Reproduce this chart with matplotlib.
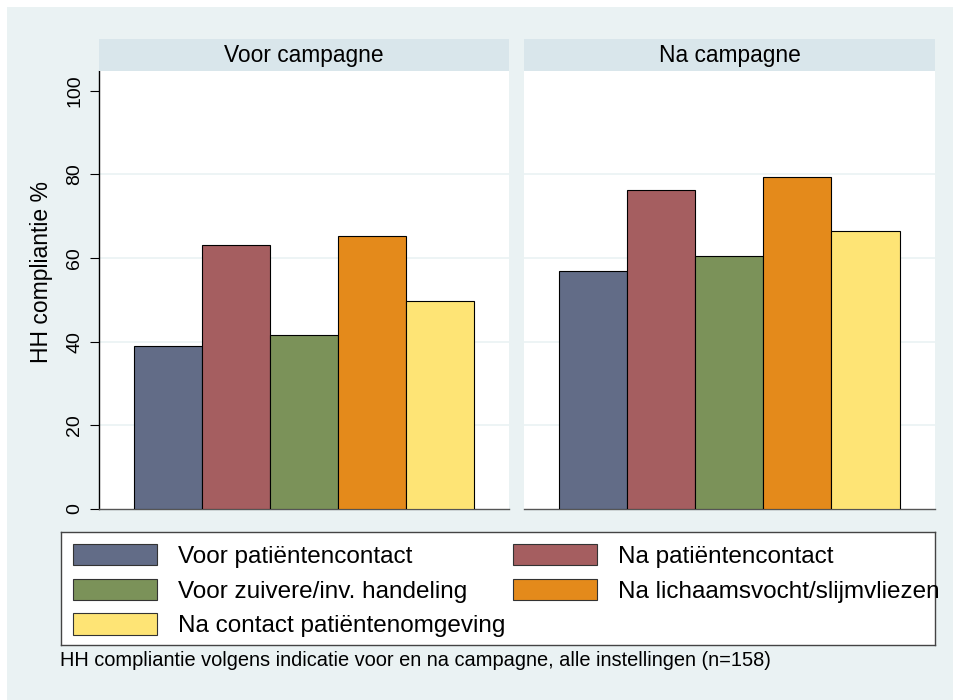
import matplotlib
matplotlib.use('Agg')
import matplotlib.pyplot as plt
from matplotlib.patches import Patch, Rectangle

plt.rcParams['font.family'] = ['Liberation Sans', 'DejaVu Sans']

# ── data ────────────────────────────────────────────────────────────────────
panels = ['Voor campagne', 'Na campagne']
indicaties = [
    'Voor patiëntencontact',
    'Na patiëntencontact',
    'Voor zuivere/inv. handeling',
    'Na lichaamsvocht/slijmvliezen',
    'Na contact patiëntenomgeving',
]
voor_waarden = [39.0, 63.2, 41.5, 65.3, 49.8]
na_waarden = [57.0, 76.3, 60.5, 79.4, 66.5]
y_ticks = [0, 20, 40, 60, 80, 100]
y_label = 'HH compliantie %'
footnote = 'HH compliantie volgens indicatie voor en na campagne, alle instellingen (n=158)'

colors = ['#626C87', '#A55E60', '#7B9259', '#E48A1B', '#FEE475']
BG = '#EAF2F3'
STRIP = '#D9E6EB'

W, H = 954, 700
fig = plt.figure(figsize=(W / 100, H / 100), dpi=100, facecolor='white')

# outer background (white strip at the top/left like the original)
fig.patches.append(Rectangle((7 / W, 0), 1 - 7 / W, 1 - 7 / H,
                             transform=fig.transFigure, facecolor=BG,
                             edgecolor='none', zorder=-5))


def fx(px):
    return px / W


def fy(px):
    return 1 - px / H


plot_top, plot_bot = 71, 509
strip_top = 39.3
panel_x = [(99, 509), (524.3, 935)]
series = [voor_waarden, na_waarden]

for i, (x0, x1) in enumerate(panel_x):
    ax = fig.add_axes([fx(x0), fy(plot_bot), fx(x1 - x0), (plot_bot - plot_top) / H])
    ax.set_facecolor('white')
    pos = list(range(len(indicaties)))
    ax.bar(pos, series[i], width=1.0, color=colors, edgecolor='black',
           linewidth=0.8, zorder=3)
    ax.set_xlim(-1.01, 5.02)
    ax.set_ylim(0, 104.7)
    ax.set_xticks([])
    for g in y_ticks[1:-1]:
        ax.axhline(g, color=BG, linewidth=1.2, zorder=1)
    for s in ['top', 'right']:
        ax.spines[s].set_visible(False)
    ax.spines['bottom'].set_color('#555555')
    ax.spines['bottom'].set_linewidth(1.0)
    if i == 0:
        ax.spines['left'].set_color('black')
        ax.spines['left'].set_linewidth(1.0)
        ax.set_yticks(y_ticks)
        ax.set_yticklabels([str(t) for t in y_ticks], rotation=90, va='center',
                           fontsize=14)
        ax.tick_params(axis='y', direction='out', length=6.5, width=0.8, pad=5)
    else:
        ax.spines['left'].set_visible(False)
        ax.set_yticks([])

    # strip title
    sax = fig.add_axes([fx(x0), fy(plot_top), fx(x1 - x0), (plot_top - strip_top) / H])
    sax.set_facecolor(STRIP)
    sax.set_xticks([])
    sax.set_yticks([])
    for s in sax.spines.values():
        s.set_visible(False)
    sax.text(0.5, 0.5, panels[i], ha='center', va='center', fontsize=16.4,
             transform=sax.transAxes)

fig.text(fx(42), fy(272), y_label, rotation=90, ha='center', va='center',
         fontsize=16.5)

# ── legend ──────────────────────────────────────────────────────────────────
lax = fig.add_axes([fx(61.5), fy(645), fx(935 - 61.5), (645 - 532.3) / H])
lax.set_facecolor('white')
lax.set_xticks([])
lax.set_yticks([])
for s in lax.spines.values():
    s.set_color('#444444')
    s.set_linewidth(1.0)

handles = [Patch(facecolor=c, edgecolor='#333333', linewidth=0.8) for c in colors]
order = [0, 2, 4, 1, 3]
leg = lax.legend([handles[k] for k in order], [indicaties[k] for k in order],
                 loc='upper left', bbox_to_anchor=(0.0, 1.0), ncol=2, frameon=False,
                 fontsize=17.5, handlelength=3.45, handleheight=0.99,
                 handletextpad=0.88, labelspacing=0.44, columnspacing=0.3,
                 borderpad=0.32, borderaxespad=0.15)
leg.set_clip_on(False)

fig.text(fx(60), fy(661), footnote, ha='left', va='center', fontsize=14.4)

fig.savefig('out.png', dpi=100, facecolor=fig.get_facecolor())
